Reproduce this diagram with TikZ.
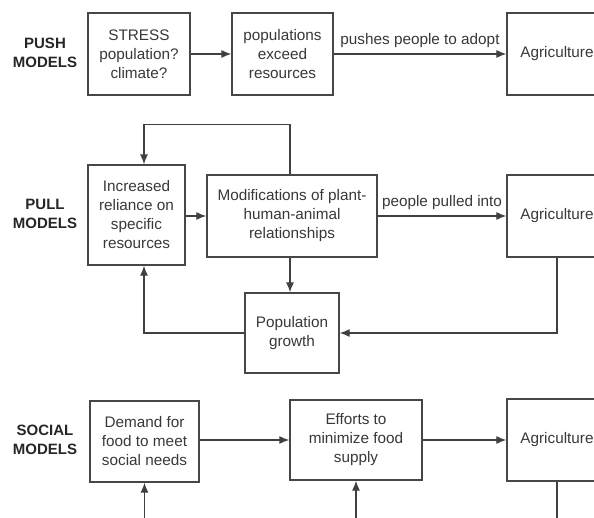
\documentclass[tikz,border=0pt]{standalone}
\usepackage{fontspec}
\setmainfont{Liberation Sans}
\usetikzlibrary{arrows.meta}
\begin{document}
\begin{tikzpicture}[x=1pt,y=-1pt,
  box/.style={draw=black!72, line width=1.3pt, align=center, inner sep=0pt, text=black!78, font=\fontsize{15.3}{19}\selectfont},
  lbl/.style={align=center, inner sep=0pt, font=\fontsize{15}{19}\selectfont\bfseries, text=black!85},
  conn/.style={draw=black!75, line width=1.2pt},
  arr/.style={conn, -{Latex[length=10pt,width=8pt]}},
  edgetext/.style={text=black!78, font=\fontsize{15.3}{19}\selectfont, inner sep=0pt}
]
\useasboundingbox (0,0) rectangle (594,518);

% PUSH
\node[lbl] (push) at (45,53) {PUSH\\MODELS};
\node[box, minimum width=102pt, minimum height=82pt] (stress) at (139,54) {STRESS\\population?\\climate?};
\node[box, minimum width=101pt, minimum height=82pt] (exceed) at (282.5,54) {populations\\exceed\\resources};
\node[box, minimum width=100pt, minimum height=82pt] (agri1) at (557,54) {Agriculture};
\draw[arr] (stress) -- (exceed);
\draw[arr] (exceed) -- node[edgetext, above=6pt] {pushes people to adopt} (agri1);

% PULL
\node[lbl] (pull) at (45,214) {PULL\\MODELS};
\node[box, minimum width=97pt, minimum height=100pt] (incr) at (136.5,215) {Increased\\reliance on\\specific\\resources};
\node[box, minimum width=170pt, minimum height=82pt] (modif) at (292,216) {Modifications of plant-\\human-animal\\relationships};
\node[box, minimum width=100pt, minimum height=82pt] (agri2) at (557,216) {Agriculture};
\node[box, minimum width=94pt, minimum height=80pt] (popg) at (292,333) {Population\\growth};
\draw[arr] (incr.east |- modif.west) -- (modif.west);
\draw[arr] ([xshift=-2pt]modif.north) -- ++(0,-50) -| ([xshift=7.5pt]incr.north);
\draw[arr] (modif) -- node[edgetext, above=6pt] {people pulled into} (agri2);
\draw[arr] ([xshift=-2pt]modif.south) -- ([xshift=-2pt]popg.north);
\draw[arr] (agri2.south) |- (popg.east);
\draw[arr] (popg.west) -| ([xshift=7.5pt]incr.south);

% SOCIAL
\node[lbl] (social) at (45,440) {SOCIAL\\MODELS};
\node[box, minimum width=109pt, minimum height=81pt] (demand) at (144.5,441.5) {Demand for\\food to meet\\social needs};
\node[box, minimum width=132pt, minimum height=80pt] (effort) at (356,440) {Efforts to\\minimize food\\supply};
\node[box, minimum width=100pt, minimum height=82pt] (agri3) at (557,440) {Agriculture};
\draw[arr] (demand.east |- effort.west) -- (effort.west);
\draw[arr] (effort) -- (agri3);
\coordinate (b1) at (144.5,530);
\coordinate (b2) at (356,530);
\coordinate (b3) at (557,530);
\draw[arr] (b1) -- (demand.south);
\draw[arr] (b2) -- (effort.south);
\draw[conn] (agri3.south) -- (b3);
\end{tikzpicture}
\end{document}
